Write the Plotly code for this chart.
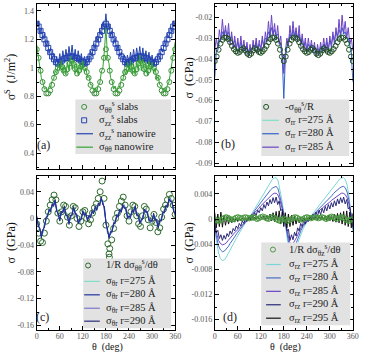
import plotly.graph_objects as go

W, H = 366, 354
SERIF = "Liberation Serif"

# ---------------- data ----------------
theta5 = list(range(0, 361, 5))   # slab / analytic points
theta4 = list(range(0, 361, 4))   # nanowire (MD) points

# (a) surface stress, J/m^2
a_tt_slab = [1.13,1.07,0.98,0.90,0.85,0.82,0.82,0.84,0.88,0.93,0.97,1.00,1.02,1.01,0.98,0.96,0.99,1.03,1.05,1.03,
             0.99,0.96,0.98,1.01,1.02,1.00,0.97,0.93,0.88,0.84,0.82,0.82,0.85,0.90,0.98,1.07,1.13,
             1.07,0.98,0.90,0.85,0.82,0.82,0.84,0.88,0.93,0.97,1.00,1.02,1.01,0.98,0.96,0.99,1.03,1.05,1.03,
             0.99,0.96,0.98,1.01,1.02,1.00,0.97,0.93,0.88,0.84,0.82,0.82,0.85,0.90,0.98,1.07,1.13]
a_zz_slab = [1.31,1.29,1.26,1.23,1.20,1.17,1.14,1.11,1.08,1.06,1.04,1.03,1.04,1.05,1.06,1.07,1.07,1.08,1.08,1.08,
             1.07,1.07,1.06,1.05,1.04,1.03,1.04,1.06,1.08,1.11,1.14,1.17,1.20,1.23,1.26,1.29,1.31,
             1.29,1.26,1.23,1.20,1.17,1.14,1.11,1.08,1.06,1.04,1.03,1.04,1.05,1.06,1.07,1.07,1.08,1.08,1.08,
             1.07,1.07,1.06,1.05,1.04,1.03,1.04,1.06,1.08,1.11,1.14,1.17,1.20,1.23,1.26,1.29,1.31]
a_zz_wire = [1.30,1.33,1.24,1.28,1.20,1.24,1.15,1.19,1.10,1.14,
             1.06,1.10,1.03,1.08,1.02,1.10,1.03,1.12,1.04,1.13,
             1.05,1.15,1.06,1.16,1.05,1.13,1.04,1.12,1.03,1.10,
             1.02,1.08,1.02,1.08,1.04,1.12,1.08,1.17,1.13,1.22,
             1.18,1.27,1.23,1.32,1.27,1.38,1.26,1.31,1.22,1.26,
             1.17,1.21,1.12,1.16,1.08,1.11,1.04,1.09,1.02,1.09,
             1.03,1.11,1.04,1.13,1.05,1.14,1.06,1.15,1.05,1.14,
             1.04,1.12,1.03,1.11,1.02,1.09,1.02,1.07,1.03,1.10,
             1.06,1.14,1.11,1.19,1.16,1.24,1.21,1.29,1.25,1.33,
             1.30]
a_tt_wire = [1.16,1.08,1.02,0.93,0.90,0.85,0.86,0.83,0.87,0.86,
             0.91,0.92,0.98,0.96,1.03,0.98,1.05,0.97,1.02,0.95,
             1.04,0.98,1.08,0.99,1.06,0.96,1.03,0.95,1.04,0.97,
             1.05,0.97,1.00,0.93,0.94,0.88,0.88,0.84,0.86,0.83,
             0.88,0.89,0.97,1.00,1.12,1.28,1.08,1.03,0.93,0.91,
             0.85,0.87,0.83,0.87,0.86,0.92,0.91,0.99,0.95,1.04,
             0.97,1.05,0.96,1.03,0.95,1.05,0.98,1.09,0.98,1.06,
             0.96,1.04,0.95,1.05,0.97,1.04,0.96,1.00,0.92,0.94,
             0.88,0.87,0.84,0.86,0.83,0.88,0.90,0.97,1.01,1.10,
             1.18]

# (b) sigma_rr, GPa
b_circ = [-0.0411,-0.0389,-0.0356,-0.0327,-0.0309,-0.0298,-0.0298,-0.0305,-0.0320,-0.0338,
          -0.0353,-0.0364,-0.0371,-0.0367,-0.0356,-0.0349,-0.0360,-0.0375,-0.0382,-0.0375,
          -0.0360,-0.0349,-0.0356,-0.0367,-0.0371,-0.0364,-0.0353,-0.0338,-0.0320,-0.0305,
          -0.0298,-0.0298,-0.0309,-0.0327,-0.0356,-0.0389,-0.0411,
          -0.0389,-0.0356,-0.0327,-0.0309,-0.0298,-0.0298,-0.0305,-0.0320,-0.0338,-0.0353,
          -0.0364,-0.0371,-0.0367,-0.0356,-0.0349,-0.0360,-0.0375,-0.0382,-0.0375,-0.0360,
          -0.0349,-0.0356,-0.0367,-0.0371,-0.0364,-0.0353,-0.0338,-0.0320,-0.0305,-0.0298,
          -0.0298,-0.0309,-0.0327,-0.0356,-0.0389,-0.0411]
b_rr275 = [-0.040,-0.037,-0.034,-0.032,-0.030,-0.029,-0.028,-0.028,-0.028,-0.029,
           -0.030,-0.031,-0.033,-0.034,-0.035,-0.035,-0.035,-0.034,-0.034,-0.034,
           -0.035,-0.036,-0.037,-0.037,-0.036,-0.035,-0.034,-0.034,-0.035,-0.035,
           -0.035,-0.035,-0.034,-0.033,-0.031,-0.030,-0.029,-0.028,-0.028,-0.028,
           -0.029,-0.030,-0.032,-0.035,-0.038,-0.045,-0.038,-0.035,-0.032,-0.030,
           -0.029,-0.028,-0.028,-0.028,-0.029,-0.030,-0.031,-0.033,-0.034,-0.035,
           -0.035,-0.035,-0.034,-0.034,-0.034,-0.035,-0.036,-0.037,-0.037,-0.036,
           -0.035,-0.034,-0.034,-0.035,-0.035,-0.035,-0.035,-0.034,-0.033,-0.031,
           -0.030,-0.029,-0.028,-0.028,-0.028,-0.029,-0.030,-0.032,-0.034,-0.037,
           -0.041]
b_rr280 = [-0.049,-0.036,-0.036,-0.031,-0.031,-0.027,-0.029,-0.026,-0.029,-0.027,
           -0.031,-0.029,-0.033,-0.031,-0.035,-0.032,-0.035,-0.032,-0.035,-0.033,
           -0.036,-0.034,-0.037,-0.035,-0.036,-0.033,-0.035,-0.032,-0.035,-0.033,
           -0.035,-0.031,-0.034,-0.030,-0.031,-0.027,-0.029,-0.025,-0.028,-0.026,
           -0.029,-0.028,-0.032,-0.033,-0.040,-0.059,-0.040,-0.034,-0.032,-0.028,
           -0.030,-0.026,-0.029,-0.027,-0.030,-0.028,-0.032,-0.030,-0.034,-0.032,
           -0.035,-0.033,-0.035,-0.033,-0.036,-0.034,-0.037,-0.035,-0.037,-0.034,
           -0.036,-0.033,-0.035,-0.032,-0.035,-0.031,-0.033,-0.029,-0.031,-0.027,
           -0.029,-0.026,-0.028,-0.025,-0.028,-0.027,-0.030,-0.030,-0.033,-0.037,
           -0.051]
b_rr285 = [-0.036,-0.030,-0.035,-0.026,-0.031,-0.021,-0.030,-0.024,-0.031,-0.023,
           -0.033,-0.027,-0.035,-0.029,-0.036,-0.030,-0.037,-0.029,-0.036,-0.031,
           -0.038,-0.032,-0.039,-0.033,-0.038,-0.031,-0.036,-0.030,-0.037,-0.031,
           -0.036,-0.029,-0.035,-0.027,-0.032,-0.022,-0.030,-0.019,-0.029,-0.023,
           -0.031,-0.024,-0.033,-0.029,-0.038,-0.047,-0.037,-0.030,-0.034,-0.024,
           -0.031,-0.022,-0.030,-0.025,-0.032,-0.024,-0.034,-0.028,-0.036,-0.030,
           -0.037,-0.030,-0.036,-0.031,-0.037,-0.032,-0.039,-0.033,-0.038,-0.032,
           -0.037,-0.030,-0.036,-0.030,-0.037,-0.029,-0.035,-0.027,-0.033,-0.025,
           -0.031,-0.021,-0.030,-0.019,-0.028,-0.022,-0.030,-0.025,-0.033,-0.030,
           -0.036]

# (c) sigma_theta_r, GPa
c_theta = theta5 + [188, 189]
c_circ = [-0.008,-0.022,-0.034,-0.036,-0.022,-0.004,0.010,0.020,0.028,0.035,
          0.028,0.008,-0.004,0.010,0.020,0.018,0.002,-0.010,0.004,0.018,
          0.016,0.000,-0.012,-0.004,0.010,0.012,0.000,-0.008,-0.002,0.008,
          0.016,0.022,0.030,0.040,0.056,0.030,-0.010,
          -0.038,-0.045,-0.032,-0.015,0.000,0.008,0.018,0.026,0.032,0.020,
          0.004,-0.004,0.010,0.020,0.018,0.004,-0.008,-0.012,0.004,0.018,
          0.014,-0.002,-0.014,-0.004,0.006,-0.006,-0.020,-0.014,0.002,0.014,
          0.020,0.028,0.036,0.030,0.020,0.006,
          -0.053,-0.058]
c_tr275 = [-0.002,-0.006,-0.020,-0.023,-0.022,-0.008,-0.004,0.008,0.008,0.016,
           0.016,0.024,0.022,0.016,0.002,0.002,0.005,0.014,0.013,0.010,
           -0.001,-0.003,-0.001,0.010,0.012,0.012,0.001,-0.002,-0.007,0.004,
           0.006,0.010,0.002,0.002,-0.001,0.007,0.006,0.013,0.012,0.018,
           0.017,0.025,0.026,0.026,0.012,-0.002,-0.022,-0.024,-0.025,-0.015,
           -0.012,-0.002,0.000,0.008,0.008,0.015,0.015,0.021,0.010,0.006,
           -0.002,0.007,0.007,0.015,0.013,0.010,0.000,-0.002,-0.007,0.005,
           0.008,0.015,0.004,0.002,-0.008,0.001,0.002,0.003,-0.007,-0.009,
           -0.008,0.002,0.004,0.014,0.014,0.023,0.024,0.031,0.020,0.016,
           0.002]
c_tr280 = [0.002,-0.010,-0.016,-0.027,-0.018,-0.012,0.000,0.004,0.012,0.012,
           0.020,0.020,0.026,0.012,0.006,-0.002,0.009,0.010,0.017,0.006,
           0.003,-0.007,0.003,0.006,0.016,0.008,0.005,-0.006,-0.003,0.000,
           0.010,0.006,0.006,-0.002,0.003,0.003,0.010,0.009,0.016,0.014,
           0.021,0.021,0.030,0.022,0.016,-0.006,-0.018,-0.028,-0.021,-0.019,
           -0.008,-0.006,0.004,0.004,0.012,0.011,0.019,0.017,0.014,0.002,
           0.002,0.003,0.011,0.011,0.017,0.006,0.004,-0.006,-0.003,0.001,
           0.012,0.011,0.008,-0.002,-0.004,-0.003,0.006,-0.001,-0.003,-0.013,
           -0.004,-0.002,0.008,0.010,0.018,0.019,0.028,0.027,0.024,0.012,
           0.006]
c_tr285 = [0.001,-0.007,-0.019,-0.024,-0.021,-0.009,-0.003,0.007,0.009,0.015,
           0.017,0.023,0.023,0.015,0.003,0.001,0.006,0.013,0.014,0.009,
           0.000,-0.004,0.000,0.009,0.013,0.011,0.002,-0.003,-0.006,0.003,
           0.007,0.009,0.003,0.001,0.000,0.006,0.007,0.012,0.013,0.017,
           0.018,0.024,0.027,0.025,0.013,-0.003,-0.021,-0.025,-0.024,-0.016,
           -0.011,-0.003,0.001,0.007,0.009,0.014,0.016,0.020,0.011,0.005,
           -0.001,0.006,0.008,0.014,0.014,0.009,0.001,-0.003,-0.006,0.004,
           0.009,0.014,0.005,0.001,-0.007,0.000,0.003,0.002,-0.006,-0.010,
           -0.007,0.001,0.005,0.013,0.015,0.022,0.025,0.030,0.021,0.015,
           0.003]
c_tr290 = [0.004,-0.012,-0.014,-0.029,-0.016,-0.014,0.002,0.002,0.014,0.010,
           0.022,0.018,0.028,0.010,0.008,-0.004,0.011,0.008,0.019,0.004,
           0.005,-0.009,0.005,0.004,0.018,0.006,0.007,-0.008,-0.001,-0.002,
           0.012,0.004,0.008,-0.004,0.005,0.001,0.012,0.007,0.018,0.012,
           0.023,0.019,0.032,0.020,0.018,-0.008,-0.016,-0.030,-0.019,-0.021,
           -0.006,-0.008,0.006,0.002,0.014,0.009,0.021,0.015,0.016,0.000,
           0.004,0.001,0.013,0.009,0.019,0.004,0.006,-0.008,-0.001,-0.001,
           0.014,0.009,0.010,-0.004,-0.002,-0.005,0.008,-0.003,-0.001,-0.015,
           -0.002,-0.004,0.010,0.008,0.020,0.017,0.030,0.025,0.026,0.010,
           0.008]

# (d) sigma_rz, GPa
d_circ = [0.0000,-0.0002,-0.0003,-0.0002,0.0000,0.0002,0.0003,0.0002,0.0000,-0.0001,
          0.0000,0.0002,0.0003,0.0002,0.0001,0.0002,0.0003,0.0002,0.0001,0.0002,
          0.0003,0.0002,0.0000,0.0001,0.0003,0.0004,0.0003,0.0001,0.0000,0.0002,
          0.0003,0.0002,0.0000,-0.0002,-0.0003,-0.0001,0.0001,
          -0.0001,-0.0003,-0.0002,0.0000,0.0002,0.0003,0.0002,0.0000,-0.0001,0.0000,
          0.0002,0.0003,0.0002,0.0001,0.0002,0.0003,0.0002,0.0001,0.0002,0.0003,
          0.0002,0.0000,0.0001,0.0003,0.0004,0.0003,0.0001,0.0000,0.0002,0.0003,
          0.0002,0.0000,-0.0002,-0.0003,-0.0001,0.0000]
d_rz275 = [-0.0020,-0.0040,-0.0054,-0.0063,-0.0066,-0.0065,-0.0061,-0.0055,-0.0050,-0.0044,
           -0.0038,-0.0032,-0.0026,-0.0021,-0.0016,-0.0011,-0.0007,-0.0002,0.0003,0.0007,
           0.0012,0.0017,0.0022,0.0028,0.0033,0.0038,0.0044,0.0049,0.0054,0.0059,
           0.0063,0.0065,0.0066,0.0061,0.0048,0.0030,0.0010,
           -0.0010,-0.0036,-0.0058,-0.0066,-0.0061,-0.0053,-0.0042,-0.0032,-0.0023,-0.0016,
           -0.0010,-0.0005,0.0000,0.0004,0.0008,0.0012,0.0016,0.0020,0.0024,0.0028,
           0.0032,0.0036,0.0040,0.0044,0.0048,0.0051,0.0055,0.0059,0.0063,0.0065,
           0.0066,0.0063,0.0054,0.0036,0.0010,-0.0020]
d_rz280 = [-0.0016,-0.0031,-0.0043,-0.0049,-0.0052,-0.0051,-0.0048,-0.0044,-0.0039,-0.0034,
           -0.0030,-0.0025,-0.0021,-0.0017,-0.0012,-0.0009,-0.0005,-0.0002,0.0002,0.0006,
           0.0009,0.0014,0.0018,0.0022,0.0026,0.0030,0.0034,0.0038,0.0043,0.0046,
           0.0049,0.0051,0.0052,0.0048,0.0037,0.0023,0.0008,
           -0.0008,-0.0029,-0.0046,-0.0052,-0.0048,-0.0042,-0.0033,-0.0025,-0.0018,-0.0012,
           -0.0008,-0.0004,0.0000,0.0003,0.0006,0.0009,0.0012,0.0016,0.0019,0.0022,
           0.0025,0.0028,0.0031,0.0034,0.0037,0.0041,0.0044,0.0047,0.0049,0.0051,
           0.0052,0.0050,0.0043,0.0029,0.0008,-0.0016]
d_rz285 = [-0.0012,-0.0025,-0.0034,-0.0039,-0.0041,-0.0040,-0.0038,-0.0034,-0.0031,-0.0027,
           -0.0023,-0.0020,-0.0016,-0.0013,-0.0010,-0.0007,-0.0004,-0.0001,0.0002,0.0005,
           0.0007,0.0011,0.0014,0.0017,0.0021,0.0024,0.0027,0.0030,0.0034,0.0036,
           0.0039,0.0041,0.0041,0.0038,0.0030,0.0018,0.0006,
           -0.0006,-0.0023,-0.0036,-0.0041,-0.0038,-0.0033,-0.0026,-0.0020,-0.0014,-0.0010,
           -0.0006,-0.0003,0.0000,0.0002,0.0005,0.0007,0.0010,0.0012,0.0015,0.0017,
           0.0020,0.0022,0.0025,0.0027,0.0030,0.0032,0.0034,0.0037,0.0039,0.0041,
           0.0041,0.0039,0.0034,0.0023,0.0006,-0.0012]
d_rz290 = [-0.0005,-0.0022,-0.0018,-0.0031,-0.0025,-0.0034,-0.0026,-0.0032,-0.0023,-0.0028,
           -0.0019,-0.0024,-0.0015,-0.0019,-0.0011,-0.0015,-0.0007,-0.0011,-0.0003,-0.0007,
           0.0000,-0.0004,0.0003,-0.0001,0.0007,0.0002,0.0010,0.0006,0.0014,0.0010,
           0.0018,0.0013,0.0023,0.0017,0.0027,0.0021,0.0031,0.0024,0.0034,0.0026,
           0.0035,0.0023,0.0029,0.0013,0.0016,0.0000,0.0003,-0.0019,-0.0016,-0.0034,
           -0.0025,-0.0033,-0.0021,-0.0027,-0.0014,-0.0019,-0.0007,-0.0012,-0.0002,-0.0008,
           0.0002,-0.0004,0.0005,-0.0001,0.0008,0.0002,0.0011,0.0005,0.0014,0.0007,
           0.0017,0.0010,0.0020,0.0013,0.0023,0.0016,0.0026,0.0019,0.0029,0.0021,
           0.0032,0.0024,0.0034,0.0026,0.0035,0.0024,0.0031,0.0016,0.0019,0.0000,
           -0.0013]
d_rz295 = [0.0010,-0.0014,0.0008,-0.0012,0.0011,-0.0013,0.0006,-0.0010,0.0004,-0.0008,
           0.0003,-0.0006,0.0002,-0.0005,0.0002,-0.0004,0.0002,-0.0003,0.0002,-0.0002,
           0.0002,-0.0002,0.0002,-0.0002,0.0003,-0.0002,0.0003,-0.0001,0.0004,-0.0001,
           0.0004,0.0000,0.0005,-0.0001,0.0006,-0.0002,0.0008,-0.0003,0.0010,-0.0004,
           0.0012,-0.0006,0.0013,-0.0008,0.0012,-0.0012,0.0010,-0.0014,0.0008,-0.0012,
           0.0006,-0.0010,0.0004,-0.0008,0.0003,-0.0006,0.0002,-0.0004,0.0002,-0.0003,
           0.0002,-0.0002,0.0003,-0.0002,0.0003,-0.0001,0.0004,-0.0001,0.0004,-0.0001,
           0.0005,-0.0002,0.0005,-0.0002,0.0006,-0.0003,0.0006,-0.0004,0.0008,-0.0005,
           0.0009,-0.0006,0.0010,-0.0008,0.0012,-0.0010,0.0013,-0.0012,0.0011,-0.0014,
           0.0009]

theta_ticks = [0, 60, 120, 180, 240, 300, 360]
theta_minor = [30, 90, 150, 210, 270, 330]
a_yticks = [0.4, 0.6, 0.8, 1.0, 1.2, 1.4]
a_ylabels = ["0.4", "0.6", "0.8", "1", "1.2", "1.4"]
b_yticks = [-0.09, -0.08, -0.07, -0.06, -0.05, -0.04, -0.03, -0.02]
b_ylabels = ["-0.09", "-0.08", "-0.07", "-0.06", "-0.05", "-0.04", "-0.03", "-0.02"]
c_yticks = [-0.16, -0.12, -0.08, -0.04, 0.0, 0.04]
c_ylabels = ["-0.16", "-0.12", "-0.08", "-0.04", "0", "0.04"]
d_yticks = [-0.016, -0.012, -0.008, -0.004, 0.0, 0.004]
d_ylabels = ["-0.016", "-0.012", "-0.008", "-0.004", "0", "0.004"]


def check(name, xs, ys):
    if len(xs) != len(ys):
        raise ValueError(f"{name}: {len(xs)} x vs {len(ys)} y")


for nm, xs, ys in [("a_tt_slab", theta5, a_tt_slab), ("a_zz_slab", theta5, a_zz_slab),
                   ("a_zz_wire", theta4, a_zz_wire), ("a_tt_wire", theta4, a_tt_wire),
                   ("b_circ", theta5, b_circ), ("b275", theta4, b_rr275), ("b280", theta4, b_rr280),
                   ("b285", theta4, b_rr285), ("c_circ", c_theta, c_circ), ("c275", theta4, c_tr275),
                   ("c280", theta4, c_tr280), ("c285", theta4, c_tr285), ("c290", theta4, c_tr290),
                   ("d_circ", theta5, d_circ), ("d275", theta5, d_rz275), ("d280", theta5, d_rz280),
                   ("d285", theta5, d_rz285), ("d290", theta4, d_rz290), ("d295", theta4, d_rz295)]:
    check(nm, xs, ys)

# ---------------- helpers ----------------
def PX(x):
    return x / W


def PY(y):
    return 1 - y / H


fig = go.Figure()


def line(x, y, color, ax, width=1.0):
    fig.add_trace(go.Scatter(x=x, y=y, mode="lines", line=dict(color=color, width=width),
                             xaxis="x" + ax, yaxis="y" + ax, showlegend=False, hoverinfo="skip"))


def marks(x, y, color, ax, symbol="circle-open", size=5):
    fig.add_trace(go.Scatter(x=x, y=y, mode="markers",
                             marker=dict(symbol=symbol, size=size, color=color, line=dict(width=1, color=color)),
                             xaxis="x" + ax, yaxis="y" + ax, showlegend=False, hoverinfo="skip"))


# colours
GA_C, GA_L, BA = "#3a8f3a", "#33a333", "#2443b0"
DKG = "#1e4f22"
TEAL, BLUE, PURP, SLATE, NAVY = "#80dfc4", "#3562c8", "#6a44c4", "#7a78c8", "#2a2a78"
C280 = "#1f32a0"

# (a)
marks(theta5, a_tt_slab, GA_C, "")
marks(theta5, a_zz_slab, BA, "", symbol="square-open", size=5)
line(theta4, a_zz_wire, BA, "")
line(theta4, a_tt_wire, GA_L, "")
# (b)
line(theta4, b_rr275, TEAL, "2")
line(theta4, b_rr280, BLUE, "2")
line(theta4, b_rr285, PURP, "2")
marks(theta5, b_circ, DKG, "2")
# (c)
marks(c_theta, c_circ, "#2d6a2d", "3", size=6)
line(theta4, c_tr275, TEAL, "3")
line(theta4, c_tr285, SLATE, "3")
line(theta4, c_tr290, NAVY, "3")
line(theta4, c_tr280, C280, "3")
# (d)
line(theta5, d_rz275, "#7ad6d6", "4")
line(theta5, d_rz280, "#4a6ac8", "4")
line(theta5, d_rz285, PURP, "4")
line(theta4, d_rz290, NAVY, "4")
line(theta4, d_rz295, "#111111", "4")
marks(theta5, d_circ, "#4a9a40", "4")

# ---------------- axes ----------------
TICKFONT = dict(family=SERIF, size=8, color="#555555")
common = dict(showline=True, linecolor="black", linewidth=1, mirror="allticks", ticks="inside",
              ticklen=4, tickwidth=1, tickcolor="black", showgrid=False, zeroline=False,
              tickfont=TICKFONT)

XA = (35.5, 177.0)
XB = (217.5, 358.7)
YTOP = (4.0, 170.0)
YTOPB = (4.0, 166.7)
YBOT = (176.5, 332.0)


def xaxis(dom, anchor, labels):
    return dict(domain=[PX(dom[0]), PX(dom[1])], anchor=anchor, range=[0, 360],
                tickmode="array", tickvals=theta_ticks, ticktext=[str(t) for t in theta_ticks],
                showticklabels=labels, ticklabelstandoff=-2,
                minor=dict(tickmode="array", tickvals=theta_minor, ticks="inside", ticklen=2,
                           tickcolor="black", showgrid=False),
                **common)


def yaxis(dom, anchor, rng, vals, labs, minor_vals):
    return dict(domain=[PY(dom[1]), PY(dom[0])], anchor=anchor, range=rng,
                tickmode="array", tickvals=vals, ticktext=labs,
                minor=dict(tickmode="array", tickvals=minor_vals, ticks="inside", ticklen=2,
                           tickcolor="black", showgrid=False),
                **common)


a_minor = [0.3, 0.5, 0.7, 0.9, 1.1, 1.3]
b_minor = [-0.085, -0.075, -0.065, -0.055, -0.045, -0.035, -0.025, -0.015]
c_minor = [-0.14, -0.10, -0.06, -0.02, 0.02, 0.06]
d_minor = [-0.014, -0.010, -0.006, -0.002, 0.002, 0.006]

layout = dict(
    width=W, height=H, margin=dict(l=0, r=0, t=0, b=0), autosize=False,
    paper_bgcolor="white", plot_bgcolor="white", showlegend=False,
    xaxis=xaxis(XA, "y", False),
    yaxis=yaxis(YTOP, "x", [0.288, 1.449], a_yticks, a_ylabels, a_minor),
    xaxis2=xaxis(XB, "y2", False),
    yaxis2=yaxis(YTOPB, "x2", [-0.0913, -0.01365], b_yticks, b_ylabels, b_minor),
    xaxis3=xaxis(XA, "y3", True),
    yaxis3=yaxis(YBOT, "x3", [-0.1671, 0.0643], c_yticks, c_ylabels, c_minor),
    xaxis4=xaxis(XB, "y4", True),
    yaxis4=yaxis(YBOT, "x4", [-0.01766, 0.00692], d_yticks, d_ylabels, d_minor),
)
fig.update_layout(**layout)

# ---------------- legends, labels ----------------
shapes, annos = [], []
LEG_BG = "#e2e2e2"
LFS = 10.5


def text(x, y, s, size=LFS, xanchor="left", angle=0, color="#222222"):
    annos.append(dict(x=PX(x), y=PY(y), xref="paper", yref="paper", text=s, showarrow=False,
                      xanchor=xanchor, yanchor="middle", textangle=angle,
                      font=dict(family=SERIF, size=size, color=color)))


def legend(box, rows, mx, lx0, lx1, tx):
    x0, y0, x1, y1 = box
    shapes.append(dict(type="rect", xref="paper", yref="paper", x0=PX(x0), x1=PX(x1),
                       y0=PY(y1), y1=PY(y0), fillcolor=LEG_BG, line=dict(width=0), layer="above"))
    for kind, color, label, ry in rows:
        if kind in ("circle", "square"):
            shapes.append(dict(type="circle" if kind == "circle" else "rect", xref="paper", yref="paper",
                               xsizemode="pixel", ysizemode="pixel", xanchor=PX(mx), yanchor=PY(ry),
                               x0=-2.5, x1=2.5, y0=-2.5, y1=2.5,
                               line=dict(color=color, width=1), fillcolor="rgba(0,0,0,0)", layer="above"))
        else:
            shapes.append(dict(type="line", xref="paper", yref="paper", x0=PX(lx0), x1=PX(lx1),
                               y0=PY(ry), y1=PY(ry), line=dict(color=color, width=1.2), layer="above"))
        text(tx, ry, label)


legend((75, 100, 173, 155),
       [("circle", GA_C, "σ<sub>θθ</sub><sup>s</sup> slabs", 107.5),
        ("square", BA, "σ<sub>zz</sub><sup>s</sup> slabs", 121),
        ("line", BA, "σ<sub>zz</sub><sup>s</sup> nanowire", 134.5),
        ("line", GA_L, "σ<sub>θθ</sub> nanowire", 148)],
       84, 76, 93, 97)
legend((265, 100, 355, 157),
       [("circle", DKG, "-σ<sub>θθ</sub><sup>s</sup>/R", 107.5),
        ("line", TEAL, "σ<sub>rr</sub> r=275 Å", 121),
        ("line", BLUE, "σ<sub>rr</sub> r=280 Å", 134.5),
        ("line", PURP, "σ<sub>rr</sub> r=285 Å", 148)],
       270, 266, 283, 287)
legend((83, 260, 173, 330),
       [("circle", "#2d6a2d", "1/R dσ<sub>θθ</sub><sup>s</sup>/dθ", 267),
        ("line", TEAL, "σ<sub>θr</sub> r=275 Å", 283),
        ("line", C280, "σ<sub>θr</sub> r=280 Å", 296.5),
        ("line", SLATE, "σ<sub>θr</sub> r=285 Å", 310),
        ("line", NAVY, "σ<sub>θr</sub> r=290 Å", 323)],
       88, 84, 100, 104)
legend((265, 244, 356, 327),
       [("circle", "#4a9a40", "1/R dσ<sub>θz</sub><sup>s</sup>/dθ", 251),
        ("line", "#7ad6d6", "σ<sub>rz</sub> r=275 Å", 266),
        ("line", "#4a6ac8", "σ<sub>rz</sub> r=280 Å", 279.5),
        ("line", PURP, "σ<sub>rz</sub> r=285 Å", 293),
        ("line", NAVY, "σ<sub>rz</sub> r=290 Å", 306.5),
        ("line", "#111111", "σ<sub>rz</sub> r=295 Å", 320)],
       277, 270, 285, 291)

# panel tags
text(42, 146, "(a)", size=12, xanchor="center")
text(231, 145, "(b)", size=12, xanchor="center")
text(41, 319, "(c)", size=12, xanchor="center")
text(233, 319, "(d)", size=12, xanchor="center")

# axis titles
text(9, 77, "σ<sup>S</sup>  (J/m<sup>2</sup>)", size=12, xanchor="center", angle=-90, color="#111111")
text(191, 78, "σ  (GPa)", size=12, xanchor="center", angle=-90, color="#111111")
text(9, 244, "σ  (GPa)", size=12, xanchor="center", angle=-90, color="#111111")
text(191, 244, "σ  (GPa)", size=12, xanchor="center", angle=-90, color="#111111")
text(108, 348.5, "θ  (deg)", size=10, xanchor="center", color="#111111")
text(290, 348.5, "θ  (deg)", size=10, xanchor="center", color="#111111")

fig.update_layout(shapes=shapes, annotations=annos)
fig.write_html("out.html")
